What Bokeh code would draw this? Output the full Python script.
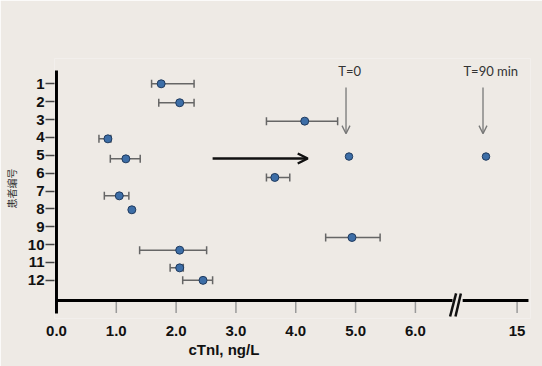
from bokeh.plotting import figure
from bokeh.models import (Range1d, FixedTicker, Whisker, TeeHead, Arrow, OpenHead,
                          ColumnDataSource, Title)
from bokeh.core.properties import value
from bokeh.embed import file_html
from bokeh.resources import INLINE

# ---------------- data ----------------
patient_row = [1.0, 2.06, 3.09, 4.08, 5.2, 6.24, 7.27, 8.05, 9.6, 10.31, 11.3, 12.0]
ctni = [1.75, 2.06, 4.15, 0.86, 1.16, 3.65, 1.05, 1.26, 4.94, 2.06, 2.06, 2.45]
ctni_lo = [1.59, 1.71, 3.51, 0.71, 0.90, 3.51, 0.80, None, 4.50, 1.39, 1.90, 2.11]
ctni_hi = [2.30, 2.30, 4.70, 0.91, 1.40, 3.90, 1.21, None, 5.41, 2.51, 2.12, 2.61]

# patient 5 follow-up measurements
t_labels = ["T=0", "T=90 min"]
t_values = [4.89, 12.4]
t_row = 5.07

x_tick_values = [0, 1, 2, 3, 4, 5, 6, 15]
x_tick_labels = ["0.0", "1.0", "2.0", "3.0", "4.0", "5.0", "6.0", "15"]
y_ticks = list(range(1, 13))

# ---------------- broken axis transform ----------------
BREAK = 6.5
POS15 = 7.70
K_AFTER = 0.2


def ax(v):
    return v if v <= BREAK else POS15 - (15 - v) * K_AFTER


BG = "#EEEAE5"
FONT = "Liberation Sans"
AXIS_ROW = 13.13   # row coordinate of the x axis line
AXIS_END = 7.89

p = figure(width=542, height=366, output_backend="svg", toolbar_location=None,
           x_range=Range1d(-0.033, 7.924), y_range=Range1d(14.134, -0.416),
           min_border_left=51, min_border_right=12, min_border_top=58,
           min_border_bottom=48, background_fill_color=BG, border_fill_color=BG,
           outline_line_color=None)
p.grid.visible = False

# x axis (labels only; line and ticks drawn below)
tick_pos = [ax(v) for v in x_tick_values]
p.xaxis.ticker = FixedTicker(ticks=tick_pos)
p.xaxis.major_label_overrides = {t: l for t, l in zip(tick_pos, x_tick_labels)}
p.xaxis.axis_line_color = None
p.xaxis.major_tick_line_color = None
p.xaxis.minor_tick_line_color = None
p.xaxis.major_tick_out = 0
p.xaxis.major_tick_in = 0
p.xaxis.major_label_text_font = FONT
p.xaxis.major_label_text_font_style = "bold"
p.xaxis.major_label_text_font_size = "15px"
p.xaxis.major_label_text_color = "#111111"
p.xaxis.major_label_standoff = 7

# y axis (ticks + labels; line drawn below)
p.yaxis.ticker = FixedTicker(ticks=y_ticks)
p.yaxis.axis_line_color = None
p.yaxis.major_tick_out = 9
p.yaxis.major_tick_in = 0
p.yaxis.major_tick_line_color = "#444444"
p.yaxis.major_tick_line_width = 1.5
p.yaxis.minor_tick_line_color = None
p.yaxis.major_label_text_font = FONT
p.yaxis.major_label_text_font_style = "bold"
p.yaxis.major_label_text_font_size = "15px"
p.yaxis.major_label_text_color = "#111111"
p.yaxis.major_label_standoff = 1
p.yaxis.axis_label = "患者编号"
p.yaxis.axis_label_text_font = "Noto Sans CJK SC"
p.yaxis.axis_label_text_font_style = "normal"
p.yaxis.axis_label_text_font_size = "10px"
p.yaxis.axis_label_text_color = "#333333"
p.yaxis.axis_label_standoff = 6

# x axis title
p.add_layout(Title(text="cTnI, ng/L", align="left", offset=134, standoff=0,
                   text_font=FONT, text_font_style="bold", text_font_size="15px",
                   text_color="#111111"), "below")

# x ticks
p.segment(x0=tick_pos, y0=[AXIS_ROW] * len(tick_pos), x1=tick_pos,
          y1=[13.83] * len(tick_pos), line_color="#9A9A9A", line_width=1.5)
# y axis line (continues a little below the x axis)
p.segment(x0=[0], y0=[0.26], x1=[0], y1=[13.85], line_color="#000000", line_width=3)
# x axis line with break
p.segment(x0=[0, 6.79], y0=[AXIS_ROW, AXIS_ROW], x1=[6.62, AXIS_END],
          y1=[AXIS_ROW, AXIS_ROW], line_color="#000000", line_width=3)
p.segment(x0=[6.58, 6.67], y0=[14.02, 14.02], x1=[6.68, 6.76], y1=[12.73, 12.73],
          line_color="#111111", line_width=2.5)

# error bars
wb = [(r, lo, hi) for r, lo, hi in zip(patient_row, ctni_lo, ctni_hi) if lo is not None]
wsrc = ColumnDataSource(dict(y=[w[0] for w in wb], lo=[w[1] for w in wb],
                             hi=[w[2] for w in wb]))
p.add_layout(Whisker(base="y", lower="lo", upper="hi", source=wsrc, dimension="width",
                     line_color="#666666", line_width=1.5,
                     lower_head=TeeHead(size=8, line_color="#666666", line_width=1.5),
                     upper_head=TeeHead(size=8, line_color="#666666", line_width=1.5)))

# points
DOT_FILL = "#3D6EA7"
DOT_LINE = "#1F3A5E"
p.scatter(x=ctni, y=patient_row, size=8, fill_color=DOT_FILL, line_color=DOT_LINE,
          line_width=1)
tx = [ax(v) for v in t_values]
p.scatter(x=tx, y=[t_row] * len(tx), size=7.5, fill_color=DOT_FILL, line_color=DOT_LINE,
          line_width=1)

# T labels and arrows
label_shift = [0.01, 0.08]
p.text(x=[x + s for x, s in zip(tx, label_shift)], y=[0.256] * len(tx), text=t_labels,
       text_align="center", text_baseline="middle", text_font=value("Lato"),
       text_font_size="13px", text_color="#333333")
for x in tx:
    p.add_layout(Arrow(x_start=x - 0.05, y_start=1.21, x_end=x - 0.05, y_end=3.79,
                       line_color="#777777", line_width=1.3,
                       end=OpenHead(size=8, line_color="#777777", line_width=1.3)))

# big black arrow pointing to patient 5 follow-up
p.add_layout(Arrow(x_start=2.61, y_start=5.18, x_end=4.20, y_end=5.18,
                   line_color="#111111", line_width=2.5,
                   end=OpenHead(size=10, line_color="#111111", line_width=2.5)))

open("out.html", "w").write(file_html(p, INLINE))
